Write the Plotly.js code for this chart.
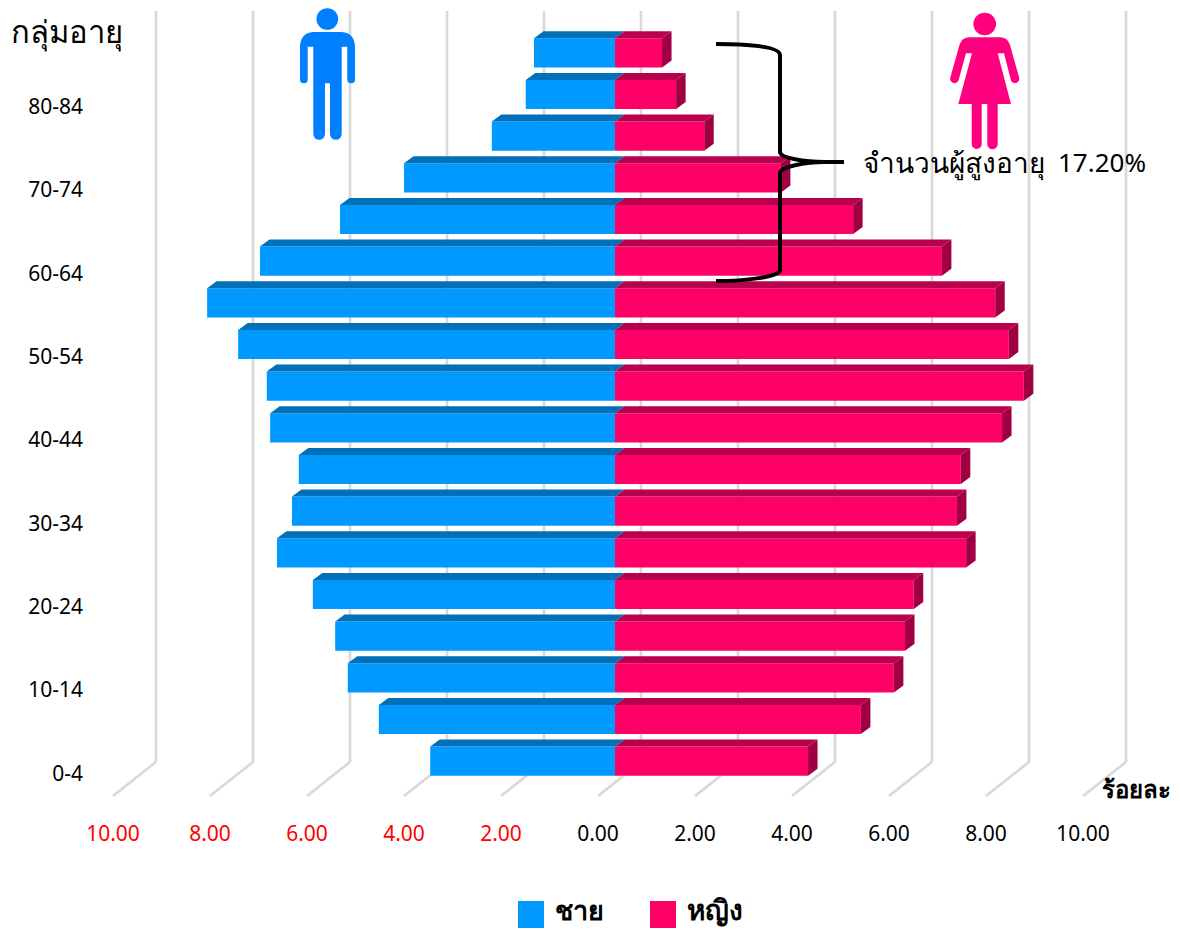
<!DOCTYPE html>
<html lang="th">
<head>
<meta charset="utf-8">
<script src="https://cdn.plot.ly/plotly-3.0.1.min.js"></script>
<style>html,body{margin:0;padding:0;background:#fff;overflow:hidden}</style>
</head>
<body>
<div id="chart" style="width:1180px;height:930px"></div>
<script>
// ---- data, bottom (youngest) to top (oldest) ----
const ageGroups = ['0-4','5-9','10-14','15-19','20-24','25-29','30-34','35-39','40-44','45-49','50-54','55-59','60-64','65-69','70-74','75-79','80-84','85+'];
const maleShare = [3.81,4.87,5.51,5.77,6.23,6.97,6.66,6.52,7.11,7.18,7.77,8.41,7.32,5.67,4.35,2.54,1.84,1.67];
const femaleShare = [3.98,5.07,5.75,5.98,6.16,7.24,7.05,7.13,7.98,8.43,8.12,7.84,6.74,4.91,3.42,1.84,1.26,0.97];
const axisTicks = [-10,-8,-6,-4,-2,0,2,4,6,8,10];
const maleName = 'ชาย', femaleName = 'หญิง';
const titleAge = 'กลุ่มอายุ', unitLabel = 'ร้อยละ', elderLabel = 'จำนวนผู้สูงอายุ', elderValue = '17.20%';

// ---- style and page geometry ----
const FONT = '"Noto Sans","Open Sans",Tahoma,sans-serif';
const C = {male:'#0099ff', maleTop:'#0070b8', female:'#ff0066', femaleTop:'#b8004e', femaleSide:'#a00042', grid:'#d9d9d9'};
const W = 1180, H = 930, M = {l:90, r:40, t:5, b:115};
const PW = W-M.l-M.r, PH = H-M.t-M.b;
const pxPerUnit = 48.5, pxPerCat = 41.67, zeroPx = 615, cat0Px = 761.2;
const xRange = [(M.l-zeroPx)/pxPerUnit, (W-M.r-zeroPx)/pxPerUnit];
const yRange = [(cat0Px-(H-M.b))/pxPerCat, (cat0Px-M.t)/pxPerCat];
const barW = 0.70;
// projection of the pseudo-3D depth, in axis units
const depthX = 9.5/pxPerUnit, depthY = 7/pxPerCat;
const wallX = 26/pxPerUnit, frontX = -17/pxPerUnit;
const wallBottom = (cat0Px-762)/pxPerCat, wallTop = (cat0Px-11)/pxPerCat, floorFront = (cat0Px-796)/pxPerCat;
const labelShiftY = -12/pxPerCat;

const idx = ageGroups.map((_,i)=>i);
const px = v => (v-M.l)/PW, py = v => 1-(v-M.t)/PH;
const pathPx = segs => segs.map(s => s[0] + s.slice(1).reduce((a,v,i)=>a.concat(i%2===0?px(v):py(v)),[]).join(',')).join(' ');

// polygons of the extruded faces, derived from the values
function poly(build){
  const xs=[], ys=[];
  idx.forEach(i=>{ build(i).forEach(p=>{xs.push(p[0]);ys.push(p[1]);}); xs.push(null); ys.push(null); });
  return {xs,ys};
}
const topOf = i => i+barW/2, botOf = i => i-barW/2;
const maleTop = poly(i=>[[-maleShare[i],topOf(i)],[0,topOf(i)],[depthX,topOf(i)+depthY],[-maleShare[i]+depthX,topOf(i)+depthY],[-maleShare[i],topOf(i)]]);
const femTop = poly(i=>[[0,topOf(i)],[femaleShare[i],topOf(i)],[femaleShare[i]+depthX,topOf(i)+depthY],[depthX,topOf(i)+depthY],[0,topOf(i)]]);
const femSide = poly(i=>[[femaleShare[i],botOf(i)],[femaleShare[i],topOf(i)],[femaleShare[i]+depthX,topOf(i)+depthY],[femaleShare[i]+depthX,botOf(i)+depthY],[femaleShare[i],botOf(i)]]);
const face = (p,color,name) => ({type:'scatter',mode:'none',x:p.xs,y:p.ys,fill:'toself',fillcolor:color,hoverinfo:'skip',showlegend:false,name});

const traces = [
  {type:'bar',orientation:'h',name:maleName,y:idx,x:maleShare.map(v=>-v),width:barW,marker:{color:C.male,line:{width:0}},showlegend:false,hoverinfo:'skip'},
  {type:'bar',orientation:'h',name:femaleName,y:idx,x:femaleShare,width:barW,marker:{color:C.female,line:{width:0}},showlegend:false,hoverinfo:'skip'},
  face(maleTop,C.maleTop,maleName+' top'),
  face(femTop,C.femaleTop,femaleName+' top'),
  face(femSide,C.femaleSide,femaleName+' side')
];

// back wall and floor gridlines
const gridShapes = axisTicks.flatMap(t=>{
  const line={color:C.grid,width:2.7};
  return [
    {type:'line',layer:'below',xref:'x',yref:'y',x0:t+wallX,x1:t+wallX,y0:wallBottom,y1:wallTop,line},
    {type:'line',layer:'below',xref:'x',yref:'y',x0:t+wallX,x1:t+frontX,y0:wallBottom,y1:floorFront,line}
  ];
});

const brace = {type:'path',layer:'above',xref:'paper',yref:'paper',line:{color:'#000',width:4},fillcolor:'rgba(0,0,0,0)',
  path:pathPx([['M',716,44],['C',745,44,780,46,780,55],['L',780,152],['C',780,158,805,162,825,162],['L',844,162],
               ['M',825,162],['C',805,162,780,167,780,173],['L',780,270],['C',780,277,745,281,716,281]])};

const swatch = (x0,color)=>({type:'rect',layer:'above',xref:'paper',yref:'paper',x0:px(x0),x1:px(x0+26),y0:py(928),y1:py(901),fillcolor:color,line:{width:0}});

const svgImg = (x,y,w,h,color,d)=>({
  source:'data:image/svg+xml;utf8,'+encodeURIComponent(`<svg xmlns="http://www.w3.org/2000/svg" width="${w}" height="${h}" viewBox="${x} ${y} ${w} ${h}"><g fill="${color}">${d}</g></svg>`),
  xref:'paper',yref:'paper',x:px(x),y:py(y),sizex:w/PW,sizey:h/PH,xanchor:'left',yanchor:'top',sizing:'stretch',layer:'above'
});
const manIcon = svgImg(299,7,57,134,'#0080ff',
  '<circle cx="327.3" cy="19" r="10.8"/><path d="M300 47C300 37 306 32 314 32H341C349 32 355 37 355 47V79.5A3.85 3.85 0 0 1 347.3 79.5V46.7H341.7V134A5.85 5.85 0 0 1 330 134V83.3H325V134A5.85 5.85 0 0 1 313.3 134V46.7H307.7V79.5A3.85 3.85 0 0 1 300 79.5Z"/>');
const womanIcon = svgImg(949,12,71,138,'#ff0080',
  '<circle cx="984.7" cy="24" r="11.3"/><path d="M969.3 37.3H1000C1006 37.3 1008.5 41 1010 45L1019 77A4.3 4.3 0 0 1 1011 80.5L1004 53.3H997.7L1011 104H997.7V144A5.2 5.2 0 0 1 987.3 144V104H981.7V144A5 5 0 0 1 971.7 144V104H958.3L972 53.3H966L958.5 80.5A4.3 4.3 0 0 1 950.5 77L959.5 45C961 41 963.5 37.3 969.3 37.3Z"/>');

const note = (text,x,y,size,anchor='left',weight=400)=>({text,xref:'paper',yref:'paper',x:px(x),y:py(y),xanchor:anchor,yanchor:'middle',showarrow:false,font:{family:FONT,size,color:'#000',weight}});

const evenIdx = idx.filter(i=>i%2===0);
const layout = {
  width:W,height:H,margin:M,paper_bgcolor:'#fff',plot_bgcolor:'rgba(0,0,0,0)',barmode:'overlay',showlegend:false,hovermode:false,
  font:{family:FONT,color:'#000'},
  xaxis:{range:xRange,showgrid:false,zeroline:false,showline:false,ticks:'',ticklabelstandoff:4,
    tickmode:'array',tickvals:axisTicks.map(t=>t+frontX),
    ticktext:axisTicks.map(t=>{const s=Math.abs(t).toFixed(2);return t<0?`<span style="color:#ff0000">${s}</span>`:s;}),
    tickfont:{family:FONT,size:21,color:'#000'}},
  yaxis:{range:yRange,showgrid:false,zeroline:false,showline:false,ticks:'',ticklabelstandoff:6,
    tickmode:'array',tickvals:evenIdx.map(i=>i+labelShiftY),ticktext:evenIdx.map(i=>ageGroups[i]),
    tickfont:{family:FONT,size:21,color:'#000'}},
  shapes:[...gridShapes,brace,swatch(518,C.male),swatch(650,C.female)],
  images:[manIcon,womanIcon],
  annotations:[
    note(titleAge,9,31,31,'left',500),
    note(unitLabel,1100,788,24,'left',600),
    note(elderLabel,861,162,28,'left',400),
    note(elderValue,1056,162,26,'left',400),
    note(maleName,553,909,27,'left',600),
    note(femaleName,685,909,28,'left',600)
  ]
};
Plotly.newPlot('chart',traces,layout,{displayModeBar:false,staticPlot:true});
</script>
</body>
</html>
